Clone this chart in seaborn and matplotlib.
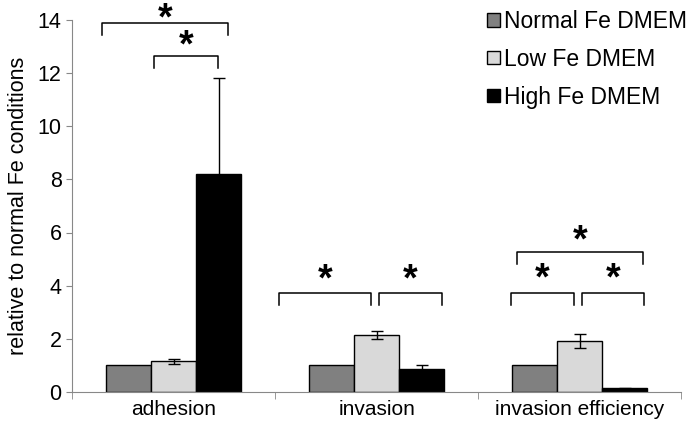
import pandas as pd
import matplotlib.pyplot as plt
import seaborn as sns

# Values
categories = ['adhesion', 'invasion', 'invasion efficiency']
conditions = ['Normal Fe DMEM', 'Low Fe DMEM', 'High Fe DMEM']
normal_fe = [1.0, 1.0, 1.0]
low_fe = [1.15, 2.15, 1.92]
high_fe = [8.2, 0.88, 0.13]
normal_err = [0.0, 0.0, 0.0]
low_err = [0.1, 0.15, 0.26]
high_err = [3.6, 0.15, 0.03]

# brackets: (category, x offset start, x offset end, bracket y, star y)
brackets = [(0, -0.35, 0.27, 13.9, 14.28), (0, -0.094, 0.217, 12.65, 13.25),
            (1, -0.48, -0.027, 3.73, 4.44), (1, 0.012, 0.323, 3.73, 4.44),
            (2, -0.311, 0.311, 5.27, 5.91), (2, -0.336, -0.03, 3.73, 4.5),
            (2, 0.01, 0.316, 3.73, 4.5)]

colors = ['#808080', '#d9d9d9', '#000000']

df = pd.DataFrame({
    'category': categories * 3,
    'condition': [c for c in conditions for _ in categories],
    'value': normal_fe + low_fe + high_fe,
})

plt.rcParams['font.family'] = ['Liberation Sans', 'DejaVu Sans']
fig = plt.figure(figsize=(6.86, 4.34), dpi=100)
ax = fig.add_axes([0.105, 0.097, 0.888, 0.857])

sns.barplot(data=df, x='category', y='value', hue='condition', palette=colors,
            width=0.667, edgecolor='black', linewidth=1, saturation=1, ax=ax,
            errorbar=None)

# error bars, placed on the bars seaborn drew
errs = [normal_err, low_err, high_err]
for cont, e in zip(ax.containers, errs):
    for bar, err in zip(cont, e):
        if err > 0:
            xc = bar.get_x() + bar.get_width() / 2
            ax.errorbar(xc, bar.get_height(), yerr=err, color='black', lw=1,
                        capsize=4.5, capthick=1)

# significance brackets
leg = 0.47
for cat, x0, x1, y, sy in brackets:
    ax.plot([cat + x0, cat + x0, cat + x1, cat + x1], [y - leg, y, y, y - leg],
            color='black', lw=1.1, clip_on=False)
    ax.text(cat + (x0 + x1) / 2, sy - 0.93, '*', ha='center', va='bottom',
            fontsize=27, fontweight='bold')

ax.set_xlim(-0.5, 2.5)
ax.set_ylim(0, 14)
ax.set_yticks(range(0, 15, 2))
ax.set_xlabel('')
ax.set_ylabel('relative to normal Fe conditions', fontsize=15.5, labelpad=6)
ax.tick_params(axis='y', labelsize=15.5, length=4, color='#888888')
ax.tick_params(axis='x', labelsize=15, length=0, pad=6)
ax.set_xticks([-0.5, 0.5, 1.5, 2.5], minor=True)
ax.tick_params(axis='x', which='minor', length=5, color='#888888')
for s in ['top', 'right']:
    ax.spines[s].set_visible(False)
for s in ['left', 'bottom']:
    ax.spines[s].set_color('#888888')

ax.legend(loc='upper left', bbox_to_anchor=(0.68, 1.025), bbox_transform=fig.transFigure,
          frameon=False, fontsize=16.5, handlelength=0.55, handleheight=0.55,
          handletextpad=0.2, labelspacing=0.65)

fig.savefig('out.png', dpi=100)
